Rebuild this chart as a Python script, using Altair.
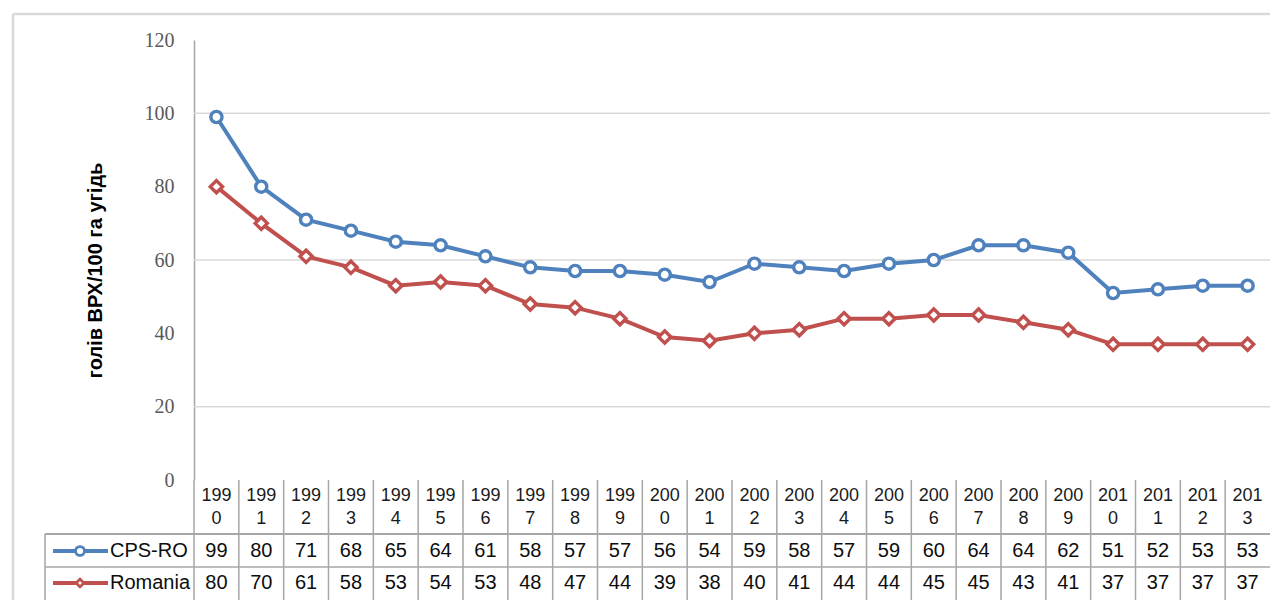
import altair as alt
import pandas as pd

# ---- data ----
years = [str(y) for y in range(1990, 2014)]
cps_ro = [99, 80, 71, 68, 65, 64, 61, 58, 57, 57, 56, 54, 59, 58, 57, 59, 60, 64, 64, 62, 51, 52, 53, 53]
romania = [80, 70, 61, 58, 53, 54, 53, 48, 47, 44, 39, 38, 40, 41, 44, 44, 45, 45, 43, 41, 37, 37, 37, 37]
series_names = ["CPS-RO", "Romania"]
series_colors = ["#4F81BD", "#C0504D"]
series_shapes = ["circle", "diamond"]
y_ticks = [0, 20, 40, 60, 80, 100, 120]
grid_values = [20, 60, 100]
y_title = "голів ВРХ/100 га угідь"

# ---- tables built from the arrays ----
df = pd.DataFrame({
    "year": years * 2,
    "series": [series_names[0]] * len(years) + [series_names[1]] * len(years),
    "value": cps_ro + romania,
})
years_df = pd.DataFrame({"year": years,
                         "top": [y[:3] for y in years],
                         "bottom": [y[3:] for y in years]})
grid_df = pd.DataFrame({"v": grid_values})
one = pd.DataFrame({"k": [0]})
leg_df = pd.DataFrame({"series": series_names})

W, H = 1076, 440
TABLE_FONT = "Liberation Sans Narrow, Arial Narrow, Liberation Sans"
LINE_C = "#a6a6a6"
FRAME_C = "#d9d9d9"
TABLE_TOP = H + 54
ROW_LINE = H + 87
ROW_Y = {series_names[0]: H + 71, series_names[1]: H + 103}
BOTTOM = H + 150

xscale = alt.Scale(domain=years, paddingInner=0, paddingOuter=0)
xenc = alt.X("year:O", scale=xscale, axis=None)
yscale = alt.Scale(domain=[0, 120], nice=False, zero=True)
color_scale = alt.Scale(domain=series_names, range=series_colors)
shape_scale = alt.Scale(domain=series_names, range=series_shapes)
size_scale = alt.Scale(domain=series_names, range=[125, 150])

yaxis = alt.Axis(values=y_ticks, grid=False, ticks=False, domain=True,
                 domainColor=LINE_C, domainWidth=1.5,
                 labelFont="Liberation Serif", labelFontSize=20, labelColor="#595959",
                 labelPadding=20,
                 title=y_title, titleFont="Liberation Sans", titleFontSize=20,
                 titleFontWeight="bold", titleColor="#000000", titleAngle=270,
                 titleX=-99, titleY=230, titleAlign="center", titleBaseline="middle")

grid = alt.Chart(grid_df).mark_rule(color=FRAME_C, strokeWidth=1.5).encode(
    y=alt.Y("v:Q", scale=yscale, axis=yaxis))

lines = alt.Chart(df).mark_line(strokeWidth=4).encode(
    x=xenc,
    y=alt.Y("value:Q", scale=yscale, axis=yaxis),
    color=alt.Color("series:N", scale=color_scale, legend=None),
    detail="series:N")

points = alt.Chart(df).mark_point(filled=True, fill="white", strokeWidth=3.4, opacity=1).encode(
    x=xenc,
    y=alt.Y("value:Q", scale=yscale, axis=yaxis),
    stroke=alt.Stroke("series:N", scale=color_scale, legend=None),
    shape=alt.Shape("series:N", scale=shape_scale, legend=None),
    size=alt.Size("series:N", scale=size_scale, legend=None))

# ---- data table under the plot ----
separators = alt.Chart(years_df).mark_rule(color=LINE_C, strokeWidth=1.5).encode(
    x=alt.X("year:O", scale=xscale, axis=None, bandPosition=0),
    y=alt.value(H), y2=alt.value(BOTTOM))

year_top = alt.Chart(years_df).mark_text(font="Liberation Sans", fontSize=18,
                                         color="#1a1a1a", baseline="middle").encode(
    x=xenc, y=alt.value(H + 16), text="top:N")
year_bottom = alt.Chart(years_df).mark_text(font="Liberation Sans", fontSize=18,
                                            color="#1a1a1a", baseline="middle").encode(
    x=xenc, y=alt.value(H + 39), text="bottom:N")

hline_top = alt.Chart(one).mark_rule(color=LINE_C, strokeWidth=2).encode(
    x=alt.value(-149), x2=alt.value(W), y=alt.value(TABLE_TOP))
hline_mid = alt.Chart(one).mark_rule(color=LINE_C, strokeWidth=1.5).encode(
    x=alt.value(-149), x2=alt.value(W), y=alt.value(ROW_LINE))
vline_left = alt.Chart(one).mark_rule(color=LINE_C, strokeWidth=1.5).encode(
    x=alt.value(-149), y=alt.value(TABLE_TOP), y2=alt.value(BOTTOM))

layers = [grid, separators, hline_top, hline_mid, vline_left, year_top, year_bottom, lines, points]

for i, name in enumerate(series_names):
    ry = ROW_Y[name]
    vals = alt.Chart(df).transform_filter(alt.datum.series == name).mark_text(
        font=TABLE_FONT, fontSize=20, color="#0d0d0d", baseline="middle").encode(
        x=xenc, y=alt.value(ry), text="value:Q")
    sub = leg_df[leg_df.series == name]
    leg_line = alt.Chart(sub).mark_rule(strokeWidth=4, color=series_colors[i]).encode(
        x=alt.value(-141), x2=alt.value(-86), y=alt.value(ry))
    leg_pt = alt.Chart(sub).mark_point(filled=True, fill="white", opacity=1, strokeWidth=2.8,
                                       stroke=series_colors[i], shape=series_shapes[i],
                                       size=80 if i == 0 else 60).encode(
        x=alt.value(-114), y=alt.value(ry))
    leg_txt = alt.Chart(sub).mark_text(font=TABLE_FONT, fontSize=20, color="#0d0d0d",
                                       align="left", baseline="middle").encode(
        x=alt.value(-84), y=alt.value(ry), text="series:N")
    layers += [vals, leg_line, leg_pt, leg_txt]

# ---- outer chart frame ----
frame_left = alt.Chart(one).mark_rule(color=FRAME_C, strokeWidth=2.5).encode(
    x=alt.value(-181), y=alt.value(-26), y2=alt.value(BOTTOM))
frame_top = alt.Chart(one).mark_rule(color=FRAME_C, strokeWidth=2.5).encode(
    x=alt.value(-181), x2=alt.value(W), y=alt.value(-26))
layers += [frame_left, frame_top]

chart = alt.layer(*layers).properties(
    width=W, height=H,
    padding={"left": 186, "top": 32, "right": 0, "bottom": 120},
    autosize=alt.AutoSizeParams(type="none"),
    background="white",
).configure_view(stroke=None)

chart.save("out.html", embed_options={"renderer": "svg", "actions": False})
